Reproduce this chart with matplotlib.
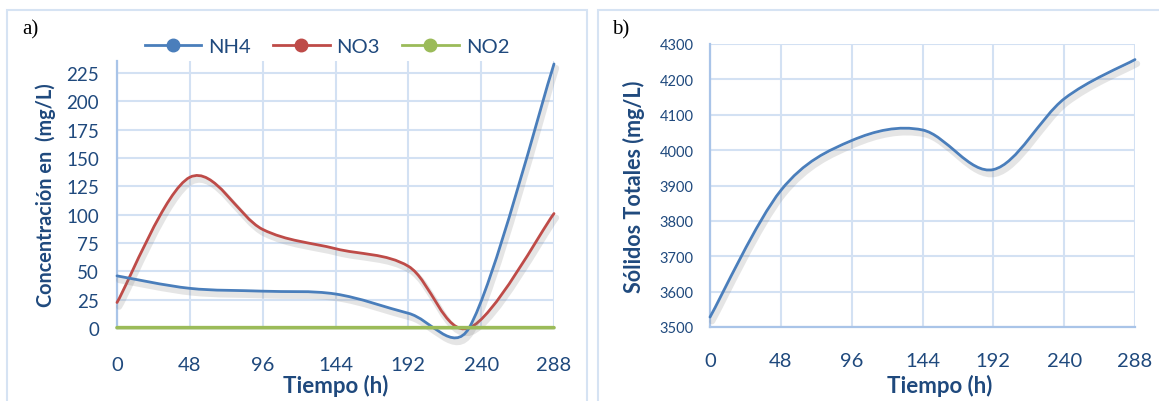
import matplotlib
matplotlib.use("Agg")
import matplotlib.pyplot as plt
import numpy as np
from matplotlib.path import Path
from matplotlib.patches import PathPatch, Rectangle
from matplotlib.lines import Line2D
import matplotlib.patheffects as pe

# --- data -------------------------------------------------------------
tiempo_n = [0, 48, 96, 144, 192, 232, 288]
nh4 = [46, 35, 32.5, 30, 13, 0, 233]
no3 = [22.5, 133, 87, 70, 54.5, 0, 101]
no2 = [0.3, 0.3, 0.3, 0.3, 0.3, 0.3, 0.3]

tiempo_s = [0, 48, 96, 144, 192, 240, 288]
solidos = [3528, 3886, 4027, 4057, 3945, 4145, 4256]

x_ticks = [0, 48, 96, 144, 192, 240, 288]
y_ticks_a = [0, 25, 50, 75, 100, 125, 150, 175, 200, 225]
y_ticks_b = [3500, 3600, 3700, 3800, 3900, 4000, 4100, 4200, 4300]

# --- style ------------------------------------------------------------
BLUE = "#4A7EBB"
RED = "#BE4B48"
GREEN = "#9BBB59"
GRID = "#D3E1F3"
SPINE = "#A9C4E8"
TXT = "#1F497D"
FONT = "Lato"

plt.rcParams["font.family"] = [FONT, "DejaVu Sans"]


def smooth_path(ax, x, y):
    """Cubic Bezier path through the points, spreadsheet-style smoothing.

    Control arms are 1/6 of the neighbour chord, limited to half of the
    segment length; the geometry is worked out in screen space.
    """
    tr = ax.transData
    pts = tr.transform(np.column_stack([x, y]).astype(float))
    n = len(pts)
    verts = [pts[0]]
    codes = [Path.MOVETO]
    for i in range(n - 1):
        p0 = pts[i - 1] if i > 0 else pts[i]
        p1 = pts[i]
        p2 = pts[i + 1]
        p3 = pts[i + 2] if i + 2 < n else pts[i + 1]
        d12 = np.hypot(*(p2 - p1))
        d02 = np.hypot(*(p2 - p0))
        d13 = np.hypot(*(p3 - p1))
        f1 = 1 / 6 if d02 / 6 < d12 / 2 else d12 / (2 * d02)
        f2 = 1 / 6 if d13 / 6 < d12 / 2 else d12 / (2 * d13)
        c1 = p1 + (p2 - p0) * f1
        c2 = p2 - (p3 - p1) * f2
        verts += [c1, c2, p2]
        codes += [Path.CURVE4] * 3
    data_verts = tr.inverted().transform(np.array(verts))
    return Path(data_verts, codes)


def add_curve(ax, x, y, color, lw=2.0, shadow=True, z=3):
    effects = []
    if shadow:
        effects.append(pe.SimpleLineShadow(offset=(1.5, -3), shadow_color="0.5",
                                           alpha=0.2, linewidth=lw + 2.5))
    effects.append(pe.Normal())
    patch = PathPatch(smooth_path(ax, x, y), fill=False, edgecolor=color, lw=lw,
                      path_effects=effects, zorder=z, capstyle="round",
                      clip_on=False)
    ax.add_patch(patch)


def style_axes(ax):
    ax.set_facecolor("white")
    ax.grid(True, color=GRID, lw=1.5, zorder=0)
    ax.set_axisbelow(True)
    for s in ["top", "right"]:
        ax.spines[s].set_visible(False)
    for s in ["left", "bottom"]:
        ax.spines[s].set_color(SPINE)
        ax.spines[s].set_linewidth(1.6)
    ax.tick_params(length=0, colors=TXT)
    ax.set_xticks(x_ticks)
    ax.set_xlim(0, 288)


fig = plt.figure(figsize=(11.59, 4.02), dpi=100)

# panel frames
fig.patches.append(Rectangle((7 / 1159, -0.05), (587 - 7) / 1159, 1.05 - 11 / 402,
                             transform=fig.transFigure, fill=False,
                             edgecolor="#D6E3F3", lw=1.5, zorder=0))
fig.patches.append(Rectangle((598 / 1159, -0.05), 0.5, 1.05 - 11 / 402,
                             transform=fig.transFigure, fill=False,
                             edgecolor="#D6E3F3", lw=1.5, zorder=0))

# --- panel a ----------------------------------------------------------
ax1 = fig.add_axes([117 / 1159, 1 - 329 / 402, (554 - 117) / 1159, (329 - 62) / 402])
style_axes(ax1)
ax1.set_ylim(0, 235.6)
ax1.set_yticks(y_ticks_a)
ax1.tick_params(axis="x", labelsize=14.5, pad=20)
ax1.tick_params(axis="y", labelsize=13.5, pad=13)

add_curve(ax1, tiempo_n, nh4, BLUE, z=4)
add_curve(ax1, tiempo_n, no3, RED, z=3)
add_curve(ax1, tiempo_n, no2, GREEN, lw=2.6, shadow=False, z=5)

ax1.set_xlabel("Tiempo (h)", fontsize=16, fontweight="bold", color=TXT, labelpad=1)
ax1.set_ylabel("Concentración en  (mg/L)", fontsize=14.3, fontweight="bold",
               color=TXT, labelpad=7)

handles = [Line2D([], [], color=c, lw=2, marker="o", markersize=9,
                  markerfacecolor=c, markeredgecolor=c)
           for c in (BLUE, RED, GREEN)]
leg = fig.legend(handles, ["NH4", "NO3", "NO2"], loc="center",
                 bbox_to_anchor=(327 / 1159, 1 - 47 / 402), ncol=3, frameon=False,
                 fontsize=14.5, handlelength=2.8, handletextpad=0.35,
                 columnspacing=1.1)
for t in leg.get_texts():
    t.set_color(TXT)

fig.text(22 / 1159, 1 - 30 / 402, "a)", fontsize=15, family="Liberation Serif",
         color="black", va="center", ha="left")

# --- panel b ----------------------------------------------------------
ax2 = fig.add_axes([710 / 1159, 1 - 328 / 402, (1135 - 710) / 1159, (328 - 45) / 402])
style_axes(ax2)
ax2.set_ylim(3500, 4300)
ax2.set_yticks(y_ticks_b)
ax2.tick_params(axis="x", labelsize=14.5, pad=18)
ax2.tick_params(axis="y", labelsize=10.5, pad=12)

add_curve(ax2, tiempo_s, solidos, BLUE)

ax2.set_xlabel("Tiempo (h)", fontsize=16, fontweight="bold", color=TXT)
ax2.xaxis.set_label_coords(0.54, -0.165)
ax2.set_ylabel("Sólidos Totales (mg/L)", fontsize=15.5, fontweight="bold",
               color=TXT, labelpad=10)

fig.text(612 / 1159, 1 - 30 / 402, "b)", fontsize=15, family="Liberation Serif",
         color="black", va="center", ha="left")

fig.savefig("out.png", dpi=100, facecolor="white")
